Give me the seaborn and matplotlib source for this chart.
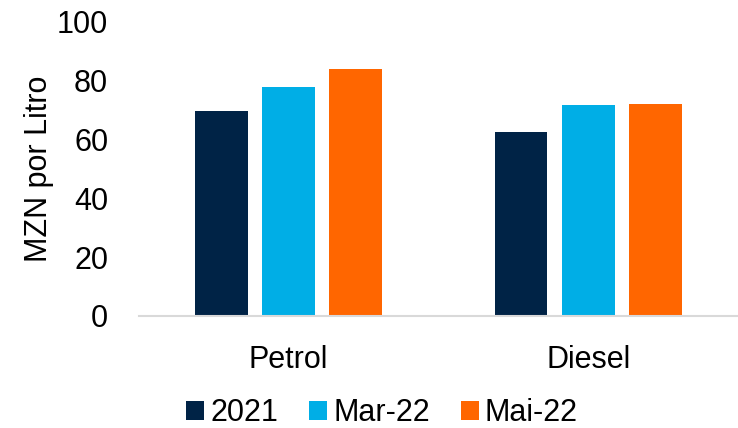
import pandas as pd
import matplotlib
matplotlib.use("Agg")
import matplotlib.pyplot as plt
import seaborn as sns

# =========================
# DATA
# =========================
fuels = ["Petrol", "Diesel"]
periods = ["2021", "Mar-22", "Mai-22"]
petrol_prices = [69.6, 78.0, 84.0]
diesel_prices = [62.4, 71.7, 72.1]
colors = ["#002346", "#00AEE6", "#FF6600"]

df = pd.DataFrame({
    "fuel": [f for f in fuels for _ in periods],
    "period": periods * len(fuels),
    "price": petrol_prices + diesel_prices,
})

sns.set_theme(style="white")
plt.rcParams["font.family"] = ["Liberation Sans", "DejaVu Sans"]
plt.rcParams["text.color"] = "black"
plt.rcParams["axes.labelcolor"] = "black"
plt.rcParams["xtick.color"] = "black"
plt.rcParams["ytick.color"] = "black"

fig = plt.figure(figsize=(7.38, 4.28), dpi=100)
ax = fig.add_axes([0.188, 0.262, 0.812, 0.687])

sns.barplot(data=df, x="fuel", y="price", hue="period", palette=colors,
            saturation=1, linewidth=0, width=0.673, gap=0.215, ax=ax,
            legend=True)

ax.set_ylim(0, 100)
ax.set_yticks(range(0, 101, 20))
ax.set_xlabel("")
ax.set_ylabel("MZN por Litro", fontsize=22, labelpad=2)
ax.tick_params(axis="y", length=0, labelsize=22, pad=22)
ax.tick_params(axis="x", length=0, labelsize=22, pad=21)

for s in ["top", "right", "left"]:
    ax.spines[s].set_visible(False)
ax.spines["bottom"].set_color("#d9d9d9")
ax.spines["bottom"].set_linewidth(1.5)

handles, labels = ax.get_legend_handles_labels()
ax.get_legend().remove()
fig.legend(handles, labels, loc="center", bbox_to_anchor=(382 / 738, 0.035),
           ncol=3, frameon=False, fontsize=22, handlelength=0.6,
           handleheight=0.6, handletextpad=0.2, columnspacing=1.0)

plt.savefig("out.png", dpi=100)
plt.close()
